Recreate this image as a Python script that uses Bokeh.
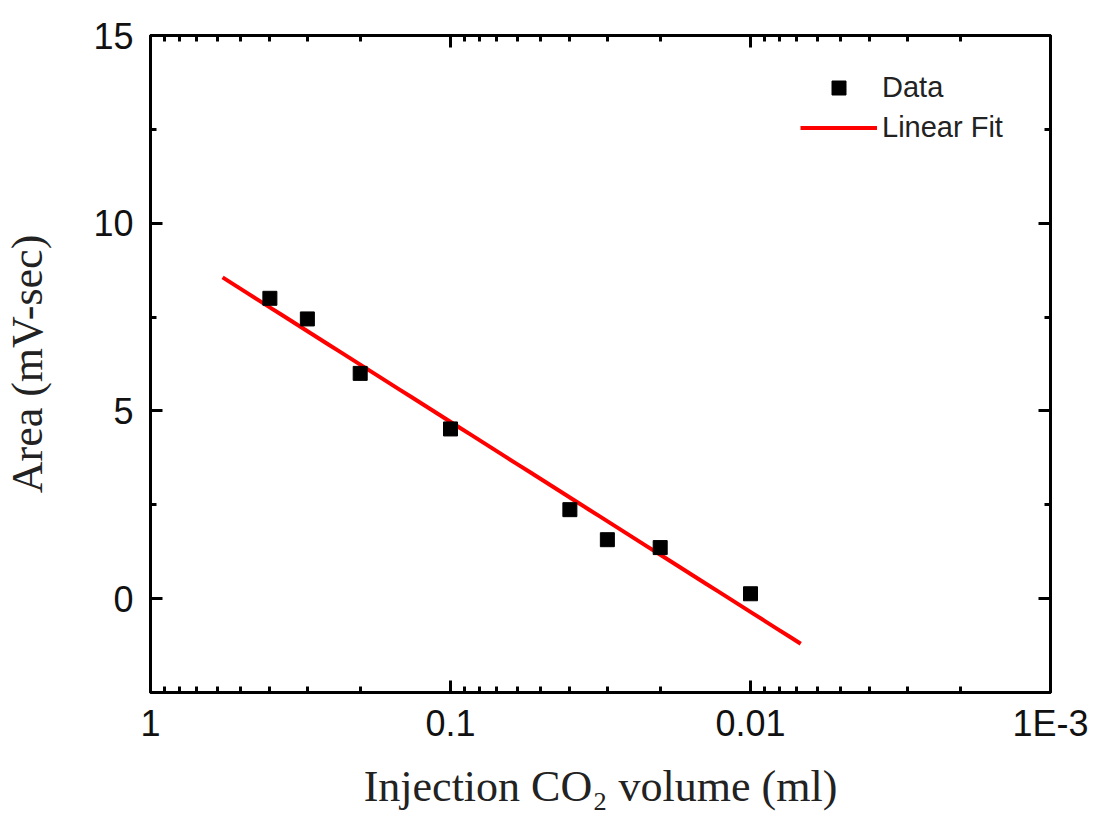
import numpy as np
from bokeh.plotting import figure
from bokeh.models import (Range1d, FixedTicker, LogAxis, LinearAxis, Legend, LegendItem)
from bokeh.embed import file_html
from bokeh.resources import INLINE

# ---- data ----
volume = [0.4, 0.3, 0.2, 0.1, 0.04, 0.03, 0.02, 0.01]
area = [8.0, 7.45, 6.0, 4.52, 2.37, 1.57, 1.36, 0.13]
fit_range = [0.575, 0.0068]

x_major = [1, 0.1, 0.01, 0.001]
x_major_labels = {1: "1", 0.1: "0.1", 0.01: "0.01", 0.001: "1E-3"}
x_minor = [k * 10.0 ** -n for n in (1, 2, 3) for k in range(2, 10)]
y_major = [0, 5, 10, 15]
y_minor = [2.5, 7.5, 12.5]

# linear fit of area vs log10(volume)
b, a = np.polyfit(np.log10(volume), area, 1)
fit_x = np.logspace(np.log10(fit_range[0]), np.log10(fit_range[1]), 50)
fit_y = a + b * np.log10(fit_x)

p = figure(width=1099, height=823, output_backend="svg", toolbar_location=None,
           x_axis_type="log", x_range=Range1d(1, 0.001), y_range=Range1d(-2.5, 15),
           min_border_left=150, min_border_right=49, min_border_top=35, min_border_bottom=131)
p.grid.visible = False
p.background_fill_color = "white"
p.border_fill_color = "white"
p.outline_line_color = "black"
p.outline_line_width = 3

r_line = p.line(fit_x, fit_y, line_color="#ff0000", line_width=4)
r_pts = p.scatter(volume, area, marker="square", size=14, fill_color="black", line_color="black")

xt = FixedTicker(ticks=x_major, minor_ticks=x_minor)
yt = FixedTicker(ticks=y_major, minor_ticks=y_minor)

def style(ax, labels=True):
    ax.axis_line_width = 3
    ax.major_tick_line_width = 3
    ax.minor_tick_line_width = 3
    ax.major_tick_in = 12
    ax.major_tick_out = 0
    ax.minor_tick_in = 6
    ax.minor_tick_out = 0
    ax.major_label_text_font = "Liberation Sans"
    ax.major_label_text_font_size = "36px"
    ax.major_label_text_color = "#111111"
    ax.axis_label_text_font = "Liberation Serif"
    ax.axis_label_text_font_size = "44px"
    ax.axis_label_text_font_style = "normal"
    ax.axis_label_text_color = "#222222"
    if not labels:
        ax.major_label_text_font_size = "0px"
        ax.major_label_text_alpha = 0

xa = p.xaxis[0]
xa.ticker = xt
xa.major_label_overrides = x_major_labels
xa.axis_label = "Injection CO\u2082 volume (ml)"
xa.major_label_standoff = 10
xa.axis_label_standoff = 15
style(xa)

ya = p.yaxis[0]
ya.ticker = yt
ya.axis_label = "Area (mV-sec)"
ya.major_label_standoff = 17
ya.axis_label_standoff = 38
style(ya)

top = LogAxis(ticker=FixedTicker(ticks=x_major, minor_ticks=x_minor))
style(top, labels=False)
p.add_layout(top, "above")
right = LinearAxis(ticker=FixedTicker(ticks=y_major, minor_ticks=y_minor))
style(right, labels=False)
p.add_layout(right, "right")

legend = Legend(items=[LegendItem(label="Data", renderers=[r_pts]),
                       LegendItem(label="Linear Fit", renderers=[r_line])],
                border_line_alpha=0, background_fill_alpha=0,
                label_text_font="Liberation Sans", label_text_font_size="29px",
                label_text_color="#222222", glyph_width=77, glyph_height=35,
                spacing=5, label_standoff=5, padding=0, margin=0)
p.add_layout(legend)
legend.location = (650, 547)

open("out.html", "w").write(file_html(p, INLINE))
